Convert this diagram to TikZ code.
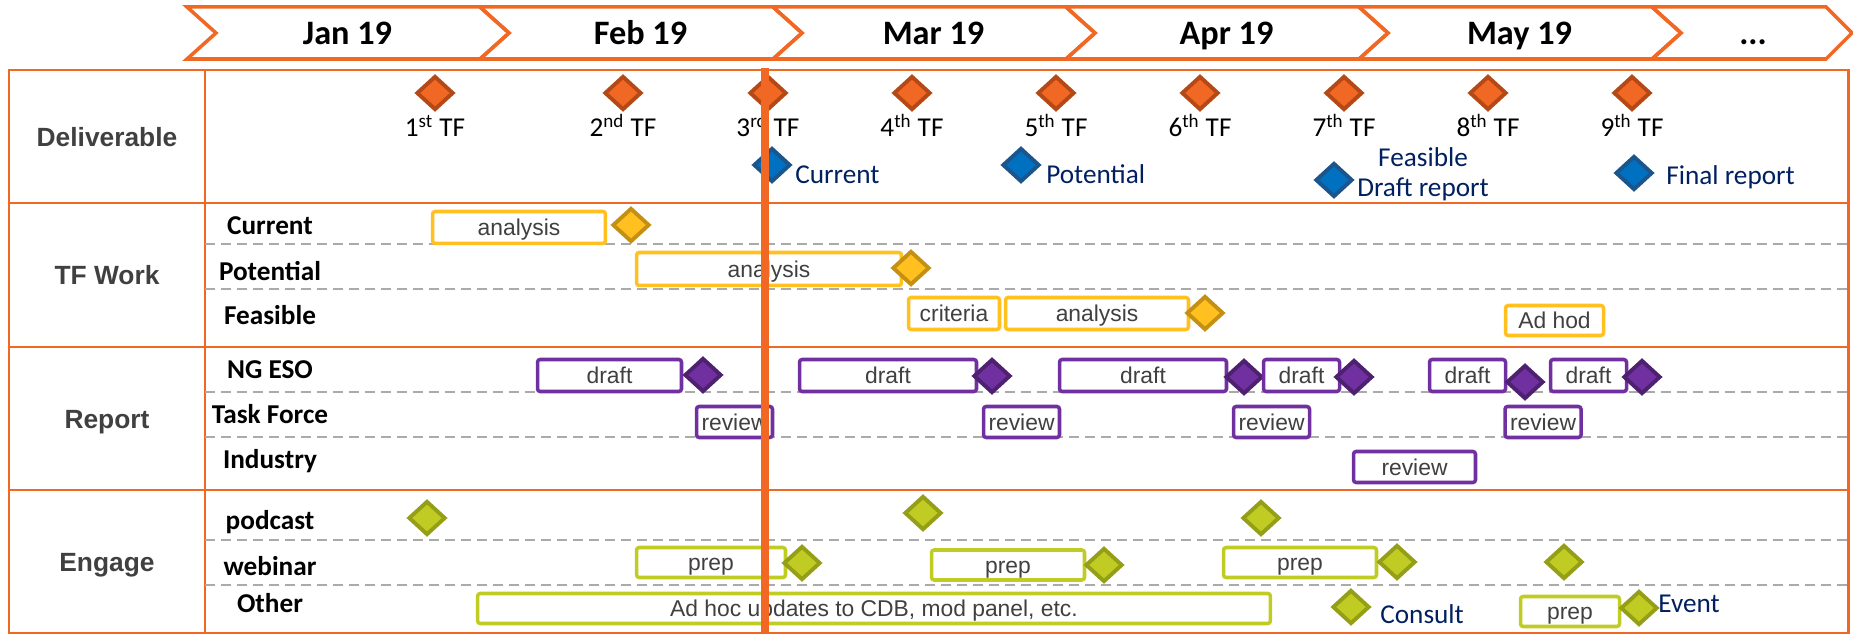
\documentclass[tikz,border=0pt]{standalone}
\usepackage{fontspec}
\setmainfont{Carlito}
\newfontfamily\arialfont{Liberation Sans}
\usetikzlibrary{shapes.geometric}

\definecolor{tforange}{RGB}{241,104,36}
\definecolor{tforangedk}{RGB}{180,72,22}
\definecolor{msblue}{RGB}{0,112,192}
\definecolor{msbluedk}{RGB}{28,84,140}
\definecolor{navytext}{RGB}{0,32,96}
\definecolor{gold}{RGB}{255,192,32}
\definecolor{golddk}{RGB}{196,144,20}
\definecolor{purp}{RGB}{112,48,160}
\definecolor{purpdk}{RGB}{78,32,112}
\definecolor{lime}{RGB}{192,204,36}
\definecolor{limedk}{RGB}{148,158,22}
\definecolor{labgray}{RGB}{64,64,64}
\definecolor{dashgray}{RGB}{170,170,170}

\tikzset{
  chev/.style={draw=tforange, line width=2pt, line join=miter},
  month/.style={font=\bfseries\fontsize{19.5}{22}\selectfont, anchor=base},
  grp/.style={font=\arialfont\bfseries\fontsize{15}{18}\selectfont, text=labgray, anchor=base},
  sub/.style={font=\bfseries\fontsize{15.5}{18}\selectfont, anchor=base},
  tflab/.style={font=\fontsize{15.5}{18}\selectfont, anchor=base},
  mslab/.style={font=\fontsize{15.5}{18}\selectfont, text=navytext, anchor=base west, inner sep=0pt},
  ms/.style={diamond, line width=2.2pt, inner sep=0pt, minimum width=0.74cm, minimum height=0.68cm},
  tfms/.style={ms, fill=tforange, draw=tforangedk},
  bluems/.style={ms, fill=msblue, draw=msbluedk},
  goldms/.style={ms, fill=gold, draw=golddk},
  purpms/.style={ms, fill=purp, draw=purpdk},
  limems/.style={ms, fill=lime, draw=limedk},
  bar/.style={fill=white, line width=2pt, rounded corners=1.5pt, inner sep=0pt, text height=9.5pt, text depth=0pt, font=\arialfont\fontsize{13}{15}\selectfont, text=labgray},
  goldbar/.style={bar, draw=gold, minimum height=0.64cm},
  purpbar/.style={bar, draw=purp, minimum height=0.64cm},
  limebar/.style={bar, draw=lime, minimum height=0.6cm},
  tline/.style={draw=tforange, line width=1.7pt},
  subline/.style={draw=dashgray, line width=0.9pt, dash pattern=on 0.2cm off 0.12cm},
  today/.style={draw=tforange, line width=4pt},
}

\begin{document}
\begin{tikzpicture}[x=0.02cm, y=-0.02cm]
\useasboundingbox (0,0) rectangle (1853,634);

% months
\foreach \i/\m in {0/Jan 19,1/Feb 19,2/Mar 19,3/Apr 19,4/May 19} {
  \pgfmathsetmacro\xa{187+293*\i}
  \pgfmathsetmacro\xb{\xa+293}
  \draw[chev] (\xa,7) -- (\xb,7) -- (\xb+29,33) -- (\xb,59) -- (\xa,59) -- (\xa+29,33) -- cycle;
  \node[month] (m\i) at ({(\xa+\xb)/2+14},45) {\m};
}
\draw[chev] (1652,7) -- (1826,7) -- (1852,33) -- (1826,59) -- (1652,59) -- (1681,33) -- cycle;
\node[month] (m5) at (1753,45) {...};

% table
\draw[tline] (9,70) rectangle (1848,633);
\draw[tline] (9,203) -- (1848,203);
\draw[tline] (9,347) -- (1848,347);
\draw[tline] (9,490) -- (1848,490);
\draw[tline] (205,70) -- (205,633);
\foreach \y in {244,289,392,437,540,585}
  \draw[subline] (205,\y) -- (1848,\y);

\node[grp] (deliv) at (107,147) {Deliverable};
\node[grp] (tfwork) at (107,285) {TF Work};
\node[grp] (report) at (107,429) {Report};
\node[grp] (engage) at (107,572) {Engage};

\node[sub] (s cur) at (270,235) {Current};
\node[sub] (s pot) at (270,281) {Potential};
\node[sub] (s fea) at (270,325) {Feasible};
\node[sub] (s ngeso) at (270,379) {NG ESO};
\node[sub] (s tforce) at (270,424) {Task Force};
\node[sub] (s ind) at (270,469) {Industry};
\node[sub] (s pod) at (270,530) {podcast};
\node[sub] (s web) at (270,576) {webinar};
\node[sub] (s oth) at (270,613) {Other};

% deliverables
\foreach \x/\n/\s [count=\k] in {435/1/st,623/2/nd,768/3/rd,912/4/th,1056/5/th,1200/6/th,1344/7/th,1488/8/th,1632/9/th} {
  \node[tfms] (tf\k) at (\x,93) {};
  \node[tflab] (tfl\k) at (\x,137) {\n\textsuperscript{\s} TF};
}
\node[bluems] (d cur) at (772,165) {};
\node[mslab] (d cur lab) at (795,184) {Current};
\node[bluems] (d pot) at (1021,165) {};
\node[mslab] (d pot lab) at (1046,184) {Potential};
\node[bluems] (d fea) at (1334,180) {};
\node[mslab, anchor=base] (d fea lab) at (1423,167) {Feasible};
\node[mslab, anchor=base] (d dr lab) at (1423,197) {Draft report};
\node[bluems] (d fin) at (1634,173) {};
\node[mslab] (d fin lab) at (1666,185) {Final report};

% TF work
\node[goldbar, minimum width=3.46cm] (w cur) at (519,227.5) {analysis};
\node[goldms] (w cur ms) at (631,225) {};
\node[goldbar, minimum width=5.30cm, minimum height=0.66cm] (w pot) at (769,269) {analysis};
\node[goldms] (w pot ms) at (911,268) {};
\node[goldbar, minimum width=1.82cm] (w crit) at (954,313.5) {criteria};
\node[goldbar, minimum width=3.66cm] (w fea) at (1097,313.5) {analysis};
\node[goldms] (w fea ms) at (1205,313) {};
\node[goldbar, minimum width=1.96cm, minimum height=0.6cm] (w adhod) at (1554.5,320.5) {Ad hod};

% report
\node[purpbar, minimum width=2.88cm] (r d1) at (609.5,375.5) {draft};
\node[purpms] (r m1) at (703,375) {};
\node[purpbar, minimum width=3.54cm] (r d2) at (888,375.5) {draft};
\node[purpms] (r m2) at (992,376) {};
\node[purpbar, minimum width=3.34cm] (r d3) at (1143,375.5) {draft};
\node[purpms] (r m3) at (1244,377) {};
\node[purpbar, minimum width=1.52cm] (r d4) at (1301.5,375.5) {draft};
\node[purpms] (r m4) at (1354,377) {};
\node[purpbar, minimum width=1.52cm] (r d5) at (1467.5,375.5) {draft};
\node[purpms] (r m5) at (1525,382) {};
\node[purpbar, minimum width=1.52cm] (r d6) at (1588.5,375.5) {draft};
\node[purpms] (r m6) at (1642,377) {};
\foreach \x [count=\k] in {734.5,1021.5,1271.5,1543}
  \node[purpbar, minimum width=1.52cm, minimum height=0.62cm] (r rv\k) at (\x,422) {review};
\node[purpbar, minimum width=2.44cm, minimum height=0.62cm] (r ind) at (1414.5,467) {review};

% engage
\node[limems] (e p1) at (427,518) {};
\node[limems] (e p2) at (923,513) {};
\node[limems] (e p3) at (1261,518) {};
\node[limebar, minimum width=2.98cm] (e w1) at (711,562.5) {prep};
\node[limems] (e wm1) at (802,563) {};
\node[limebar, minimum width=3.06cm] (e w2) at (1008,565) {prep};
\node[limems] (e wm2) at (1104,565) {};
\node[limebar, minimum width=3.06cm] (e w3) at (1300,562.5) {prep};
\node[limems] (e wm3) at (1397,562) {};
\node[limems] (e wm4) at (1564,562) {};
\node[limebar, minimum width=15.86cm] (e adhoc) at (874,608.5) {Ad hoc updates to CDB, mod panel, etc.};
\node[limems] (e con) at (1351,607) {};
\node[mslab] (e con lab) at (1380,623) {Consult};
\node[limebar, minimum width=1.98cm] (e prep) at (1570,611.5) {prep};
\node[limems] (e evt) at (1639,608) {};
\node[mslab] (e evt lab) at (1658,613) {Event};

% today
\coordinate (now top) at (765,68);
\coordinate (now bot) at (765,634);
\draw[today] (now top) -- (now bot);
\end{tikzpicture}
\end{document}
